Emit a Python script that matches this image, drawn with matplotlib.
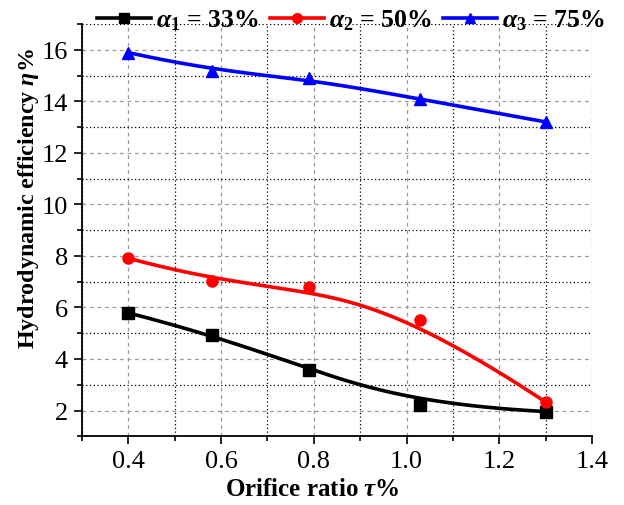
import numpy as np
import matplotlib
matplotlib.use("Agg")
import matplotlib.pyplot as plt
from matplotlib.lines import Line2D
from matplotlib.ticker import MultipleLocator

# ---- data ----
orifice_ratio = [0.40, 0.58, 0.79, 1.03, 1.30]
eff_a1 = [5.79, 4.95, 3.58, 2.22, 1.96]
eff_a2 = [7.91, 7.04, 6.78, 5.53, 2.33]
eff_a3 = [15.89, 15.18, 14.92, 14.08, 13.20]
labels = [r"$\alpha_1$ = 33%", r"$\alpha_2$ = 50%", r"$\alpha_3$ = 75%"]
x_ticklabels = ["0.4", "0.6", "0.8", "1.0", "1.2", "1.4"]

plt.rcParams["font.family"] = ["Liberation Serif", "DejaVu Serif"]
plt.rcParams["mathtext.fontset"] = "custom"
plt.rcParams["mathtext.rm"] = "Liberation Serif:bold"
plt.rcParams["mathtext.it"] = "Liberation Serif:bold:italic"
plt.rcParams["mathtext.bf"] = "Liberation Serif:bold"


def bspline(xs, ys, degree=3, n=300):
    P = np.column_stack([xs, ys]).astype(float)
    m = len(P)
    k = min(degree, m - 1)
    inner = np.linspace(0, 1, m - k + 1)[1:-1]
    knots = np.concatenate([np.zeros(k + 1), inner, np.ones(k + 1)])
    ts = np.linspace(0, 1, n)
    ts[-1] = 1 - 1e-12

    def basis(i, p, t):
        if p == 0:
            return np.where((knots[i] <= t) & (t < knots[i + 1]), 1.0, 0.0)
        out = np.zeros_like(t)
        d1 = knots[i + p] - knots[i]
        d2 = knots[i + p + 1] - knots[i + 1]
        if d1 > 0:
            out += (t - knots[i]) / d1 * basis(i, p - 1, t)
        if d2 > 0:
            out += (knots[i + p + 1] - t) / d2 * basis(i + 1, p - 1, t)
        return out

    B = np.array([basis(i, k, ts) for i in range(m)])
    C = B.T @ P
    return C[:, 0], C[:, 1]


W, H = 624, 506
fig = plt.figure(figsize=(W / 100, H / 100), dpi=100)
ax_l, ax_r, ax_t, ax_b = 82, 592, 25, 437.3
ax = fig.add_axes([ax_l / W, 1 - ax_b / H, (ax_r - ax_l) / W, (ax_b - ax_t) / H])

series = [(eff_a1, "black", "s"), (eff_a2, "red", "o"), (eff_a3, "blue", "^")]
handles = []
for (vals, c, mk), lab in zip(series, labels):
    cx, cy = bspline(orifice_ratio, vals)
    ax.plot(cx, cy, color=c, lw=2.6, zorder=3)
    ax.plot(orifice_ratio, vals, ls="none", marker=mk, color=c, ms=8, zorder=4)
    handles.append(Line2D([], [], color=c, lw=2.6, marker=mk, ms=7, label=lab))

ax.set_xlim(0.3, 1.4)
ax.set_ylim(1, 17)
ax.xaxis.set_minor_locator(MultipleLocator(0.1))
ax.yaxis.set_minor_locator(MultipleLocator(1))
ax.set_xticks(np.arange(0.4, 1.41, 0.2))
ax.set_xticklabels(x_ticklabels)
ax.set_yticks(np.arange(2, 17, 2))

ax.grid(True, which="major", color="#9a9a9a", ls=(0, (3, 3)), lw=0.9)
ax.grid(True, which="minor", color="black", ls=(0, (1, 2)), lw=0.9)
ax.set_axisbelow(True)

for s in ["top", "right"]:
    ax.spines[s].set_visible(False)
for s in ["left", "bottom"]:
    ax.spines[s].set_linewidth(1.3)
ax.tick_params(which="major", direction="out", length=6, width=1.2, labelsize=19, pad=4)
ax.tick_params(which="minor", direction="out", length=3.5, width=1.2)

# axis titles placed (slightly off-centre, as in the reference)
fig.text(312 / W, 1 - 490 / H, r"Orifice ratio $\tau$%", fontsize=18, fontweight="bold",
         ha="center", va="center")
fig.text(29 / W, 1 - 199 / H, r"Hydrodynamic efficiency $\eta$%", fontsize=17.3,
         fontweight="bold", ha="center", va="center", rotation=90)

fig.legend(handles=handles, loc="center", bbox_to_anchor=(351 / W, 1 - 21 / H),
           ncol=3, frameon=False, prop={"weight": "bold", "size": 18.5},
           handlelength=2.1, handletextpad=0.2, columnspacing=0.45, borderpad=0)

fig.savefig("out.png", dpi=100)
